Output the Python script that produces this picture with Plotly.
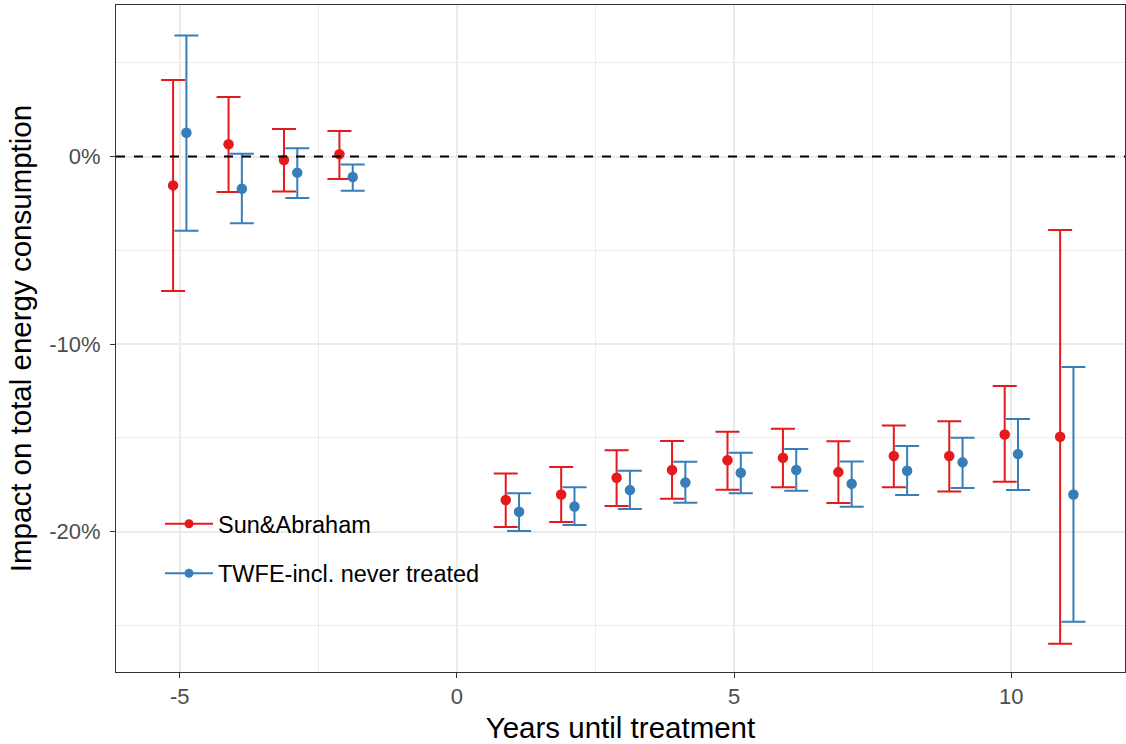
import plotly.graph_objects as go

# Event time (years until treatment)
years = [-5, -4, -3, -2, 1, 2, 3, 4, 5, 6, 7, 8, 9, 10, 11]

# Sun & Abraham estimates (%), with CI bounds
sa_est = [-1.54, 0.65, -0.19, 0.12, -18.32, -18.02, -17.13, -16.72, -16.20, -16.07, -16.83, -15.97, -15.97, -14.82, -14.94]
sa_hi = [4.08, 3.17, 1.47, 1.36, -16.90, -16.56, -15.67, -15.17, -14.68, -14.52, -15.19, -14.34, -14.12, -12.24, -3.92]
sa_lo = [-7.17, -1.89, -1.86, -1.20, -19.76, -19.49, -18.64, -18.25, -17.77, -17.64, -18.48, -17.64, -17.86, -17.34, -25.98]

# TWFE incl. never treated estimates (%), with CI bounds
tw_est = [1.27, -1.72, -0.86, -1.09, -18.94, -18.66, -17.79, -17.38, -16.86, -16.72, -17.45, -16.76, -16.31, -15.87, -18.02]
tw_hi = [6.46, 0.15, 0.44, -0.42, -17.96, -17.64, -16.76, -16.28, -15.80, -15.60, -16.26, -15.44, -15.00, -14.00, -11.23]
tw_lo = [-3.96, -3.56, -2.21, -1.82, -19.97, -19.65, -18.80, -18.46, -17.96, -17.82, -18.68, -18.05, -17.68, -17.79, -24.81]

series_names = ["Sun&Abraham", "TWFE-incl. never treated"]
colors = ["#E41A1C", "#377EB8"]
dodge = [-0.12, 0.12]

x_ticks = [-5, 0, 5, 10]
x_tick_text = ["-5", "0", "5", "10"]
y_ticks = [0, -10, -20]
y_tick_text = ["0%", "-10%", "-20%"]

FONT = "Liberation Sans, Arial, sans-serif"

fig = go.Figure()

for name, est, hi, lo, col, dx in [
    (series_names[0], sa_est, sa_hi, sa_lo, colors[0], dodge[0]),
    (series_names[1], tw_est, tw_hi, tw_lo, colors[1], dodge[1]),
]:
    fig.add_trace(go.Scatter(
        x=[v + dx for v in years], y=est, mode="markers",
        marker=dict(color=col, size=10.5),
        error_y=dict(type="data", symmetric=False,
                     array=[h - e for h, e in zip(hi, est)],
                     arrayminus=[e - l for e, l in zip(est, lo)],
                     color=col, thickness=2, width=12),
        showlegend=False, name=name,
    ))

for i, (name, col) in enumerate(zip(series_names, colors)):
    fig.add_trace(go.Scatter(
        x=[None], y=[None], mode="lines+markers", name=name,
        line=dict(color=col, width=2), marker=dict(color=col, size=9),
        legendgroup=f"g{i}",
    ))

fig.add_hline(y=0, line=dict(color="black", width=2, dash="dash"), layer="above")

axis_common = dict(
    showgrid=True, gridcolor="#EBEBEB", gridwidth=1.5,
    showline=True, linecolor="#333333", linewidth=1, mirror=True,
    ticks="outside", ticklen=5, tickcolor="#333333", tickwidth=1,
    zeroline=False,
    tickfont=dict(family=FONT, size=22, color="#4D4D4D"),
    title_font=dict(family=FONT, size=29.5, color="black"),
)

fig.update_layout(
    width=1126, height=744,
    margin=dict(l=116, r=1, t=5, b=72),
    plot_bgcolor="white", paper_bgcolor="white",
    font=dict(family=FONT),
    xaxis=dict(range=[-6.15, 12.05], tickvals=x_ticks, ticktext=x_tick_text,
               title=dict(text="Years until treatment", standoff=10),
               ticklabelstandoff=0,
               minor=dict(tickvals=[-2.5, 2.5, 7.5], showgrid=True, gridcolor="#EBEBEB", gridwidth=1, ticks=""),
               **axis_common),
    yaxis=dict(range=[-27.49, 8.08], tickvals=y_ticks, ticktext=y_tick_text,
               title=dict(text="Impact on total energy consumption", standoff=8),
               ticklabelstandoff=5,
               minor=dict(tickvals=[5, -5, -15, -25], showgrid=True, gridcolor="#EBEBEB", gridwidth=1, ticks=""),
               **axis_common),
    legend=dict(x=0.0436, y=0.114, xanchor="left", yanchor="bottom",
                bgcolor="rgba(0,0,0,0)", borderwidth=0, itemwidth=48,
                font=dict(family=FONT, size=23.5, color="black"),
                traceorder="grouped", tracegroupgap=16),
)

fig.write_html("out.html", config={"displayModeBar": False},
               post_script="document.body.style.margin='0';")
